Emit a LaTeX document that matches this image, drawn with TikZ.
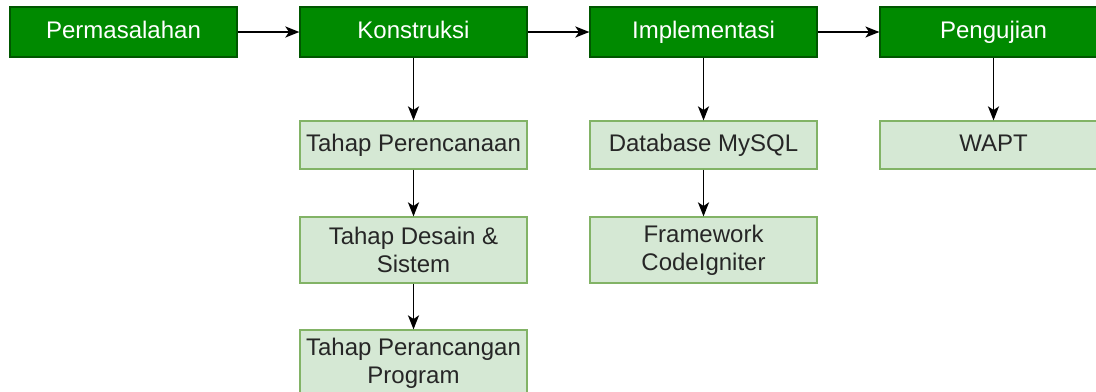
\documentclass[tikz,border=0pt]{standalone}
\usepackage{fontspec}
\setmainfont{Liberation Sans}
\usetikzlibrary{arrows.meta, math}
\definecolor{mygreen}{RGB}{0,138,0}
\definecolor{mydarkgreen}{RGB}{0,87,0}
\definecolor{mylightgreen}{RGB}{213,232,212}
\definecolor{myborder}{RGB}{130,179,102}

\begin{document}
\begin{tikzpicture}[x=0.5pt, y=-0.5pt,
  phase/.style={draw=mydarkgreen, fill=mygreen, text=white, line width=0.6,
    minimum width=113.5pt, minimum height=25pt, inner sep=0pt,
    text height=8.6pt, text depth=2.6pt,
    font=\fontsize{12}{14}\selectfont},
  sub/.style={draw=myborder, fill=mylightgreen, text=black!85, line width=0.6,
    minimum width=113.5pt, minimum height=24pt, inner sep=0pt, align=center,
    font=\fontsize{12}{14}\selectfont},
  oneline/.style={sub, text height=8.6pt, text depth=2.6pt},
  twoline/.style={sub, minimum height=33pt},
  link/.style={-{Stealth[length=7pt, width=5.5pt, inset=1.8pt]}, line width=0.9}]
\tikzmath{
\dx=290;
\xa=123.5;
}
\clip (0,0) rectangle (1096,391);

% main phases
\node[phase] (perm) at (\xa,32) {Permasalahan};
\node[phase] (kons) at (\xa+\dx,32) {Konstruksi};
\node[phase] (impl) at (\xa+2*\dx,32) {Implementasi};
\node[phase] (uji) at (\xa+3*\dx,32) {Pengujian};

% steps below each phase
\node[oneline] (rencana) at (\xa+\dx,145) {Tahap Perencanaan};
\node[twoline] (desain) at (\xa+\dx,250) {Tahap Desain \&\\Sistem};
\node[twoline] (rancang) at (\xa+\dx,363) {Tahap Perancangan\\Program};

\node[oneline] (mysql) at (\xa+2*\dx,145) {Database MySQL};
\node[twoline] (ci) at (\xa+2*\dx,250) {Framework\\CodeIgniter};

\node[oneline] (wapt) at (\xa+3*\dx,145) {WAPT};

\draw[link] (perm) -- (kons);
\draw[link] (kons) -- (impl);
\draw[link] (impl) -- (uji);

\draw[link] (kons) -- (rencana);
\draw[link] (rencana) -- (desain);
\draw[link] (desain) -- (rancang);
\draw[link] (impl) -- (mysql);
\draw[link] (mysql) -- (ci);
\draw[link] (uji) -- (wapt);
\end{tikzpicture}
\end{document}
